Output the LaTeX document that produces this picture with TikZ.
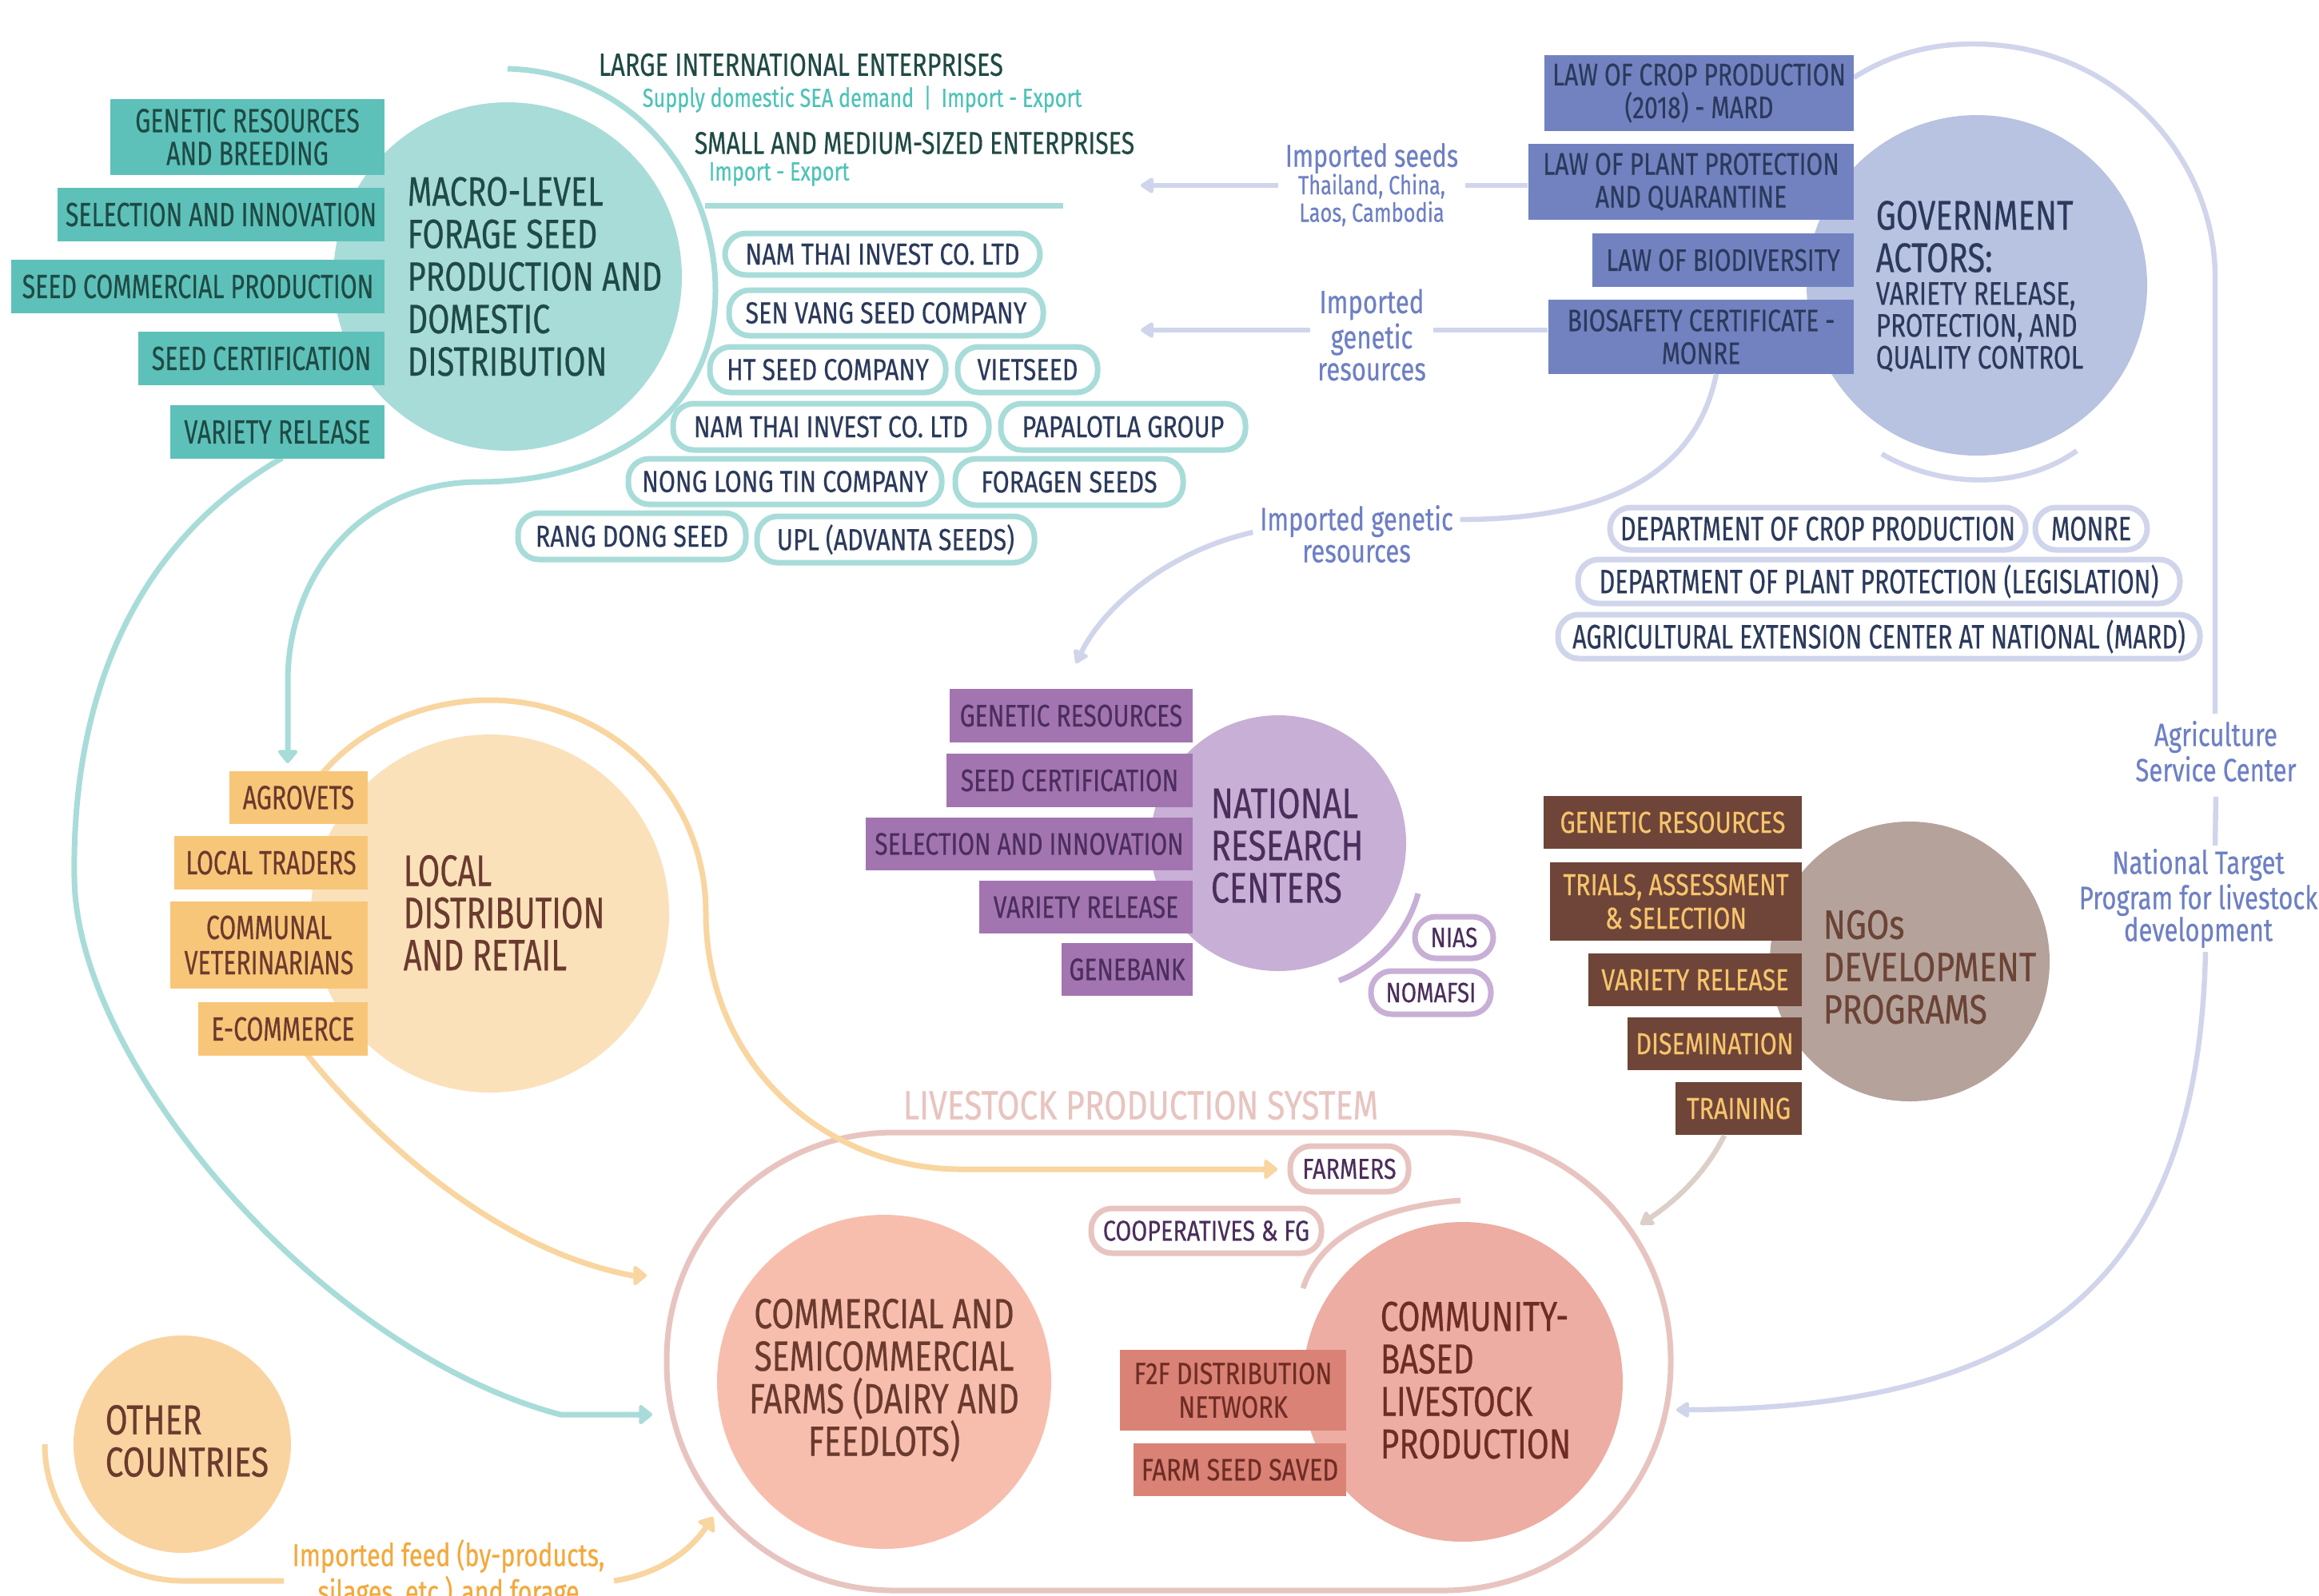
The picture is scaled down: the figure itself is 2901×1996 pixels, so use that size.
\documentclass[tikz,border=0pt]{standalone}
\usepackage{fontspec}
\setmainfont[FakeStretch=0.72,FakeBold=0.4]{Fira Sans}
\newfontfamily\fm[FakeStretch=0.77,FakeBold=0.4]{Fira Sans}
\newfontfamily\fw[FakeStretch=0.8,FakeBold=0.4]{Fira Sans}
\usetikzlibrary{arrows.meta}
\definecolor{tealLight}{HTML}{A8DCD9}
\definecolor{tealBox}{HTML}{5DC1B9}
\definecolor{tealDark}{HTML}{1F4A45}
\definecolor{tealText}{HTML}{4FC3B8}
\definecolor{navy}{HTML}{2B3A5C}
\definecolor{govCircle}{HTML}{B8C2E1}
\definecolor{govBox}{HTML}{7282C0}
\definecolor{lav}{HTML}{D0D5EC}
\definecolor{lavText}{HTML}{6E80C4}
\definecolor{nrcCircle}{HTML}{C8AFD6}
\definecolor{nrcBox}{HTML}{A275B1}
\definecolor{nrcText}{HTML}{4B2E5C}
\definecolor{ngoCircle}{HTML}{B5A29B}
\definecolor{ngoBox}{HTML}{6E4538}
\definecolor{ngoYellow}{HTML}{F7C46C}
\definecolor{ngoText}{HTML}{6B4436}
\definecolor{localCircle}{HTML}{FAE1BA}
\definecolor{localBox}{HTML}{F8C678}
\definecolor{brownText}{HTML}{6B3A2E}
\definecolor{orangeLine}{HTML}{F9D5A0}
\definecolor{otherCircle}{HTML}{FAD4A0}
\definecolor{feedText}{HTML}{F4A93C}
\definecolor{lsBorder}{HTML}{E8C4C0}
\definecolor{commCircle}{HTML}{F7BEAE}
\definecolor{cbCircle}{HTML}{EDADA2}
\definecolor{redBox}{HTML}{D98275}
\definecolor{redText}{HTML}{6E2C25}
\definecolor{trainLine}{HTML}{DCCFC8}
\newcommand\mybox[7]{%
  \pgfmathsetmacro\bw{(#5-#3)*0.25}%
  \pgfmathsetmacro\bh{(#6-#4)*0.25}%
  \node[#1,minimum width=\bw pt,minimum height=\bh pt] (#2) at ({(#3+#5)/2},{(#4+#6)/2}) {#7};}
\begin{document}
\begin{tikzpicture}[x=0.25pt,y=-0.25pt,
  boxbase/.style={inner sep=0pt, align=center},
  tbox/.style={boxbase, fill=tealBox, text=tealDark, font=\fontsize{10.5}{10.25}\selectfont},
  bbox/.style={boxbase, fill=govBox, text=navy, font=\fm\fontsize{9.75}{10.25}\selectfont},
  pbox/.style={boxbase, fill=nrcBox, text=nrcText, font=\fm\fontsize{9.75}{10}\selectfont},
  nbox/.style={boxbase, fill=ngoBox, text=ngoYellow, font=\fw\fontsize{9.5}{10.5}\selectfont},
  obox/.style={boxbase, fill=localBox, text=brownText, font=\fontsize{10.5}{11}\selectfont},
  rbox/.style={boxbase, fill=redBox, text=redText, font=\fw\fontsize{9.6}{10.5}\selectfont},
  pillbase/.style={inner sep=0pt, fill=white, line width=1.75pt, rounded corners=6.5pt},
  tpill/.style={pillbase, draw=tealLight, text=navy, font=\fw\fontsize{9.5}{10}\selectfont},
  lpill/.style={pillbase, draw=lav, text=navy, font=\fontsize{10.6}{10}\selectfont},
  ppill/.style={pillbase, draw=nrcCircle, text=nrcText, font=\fw\fontsize{8.75}{9}\selectfont},
  kpill/.style={pillbase, draw=lsBorder, text=nrcText, font=\fw\fontsize{9}{9}\selectfont},
  disc/.style={circle, inner sep=0pt, minimum size=#1},
  title/.style={align=left, anchor=west, inner sep=0pt, font=\fm\fontsize{12.8}{13.3}\selectfont},
  tline/.style={draw=tealLight, line width=1.75pt},
  oline/.style={draw=orangeLine, line width=1.75pt},
  lline/.style={draw=lav, line width=1.6pt},
  tip/.style={-{Triangle[width=7pt,length=4.5pt,round]}},
  ltip/.style={-{Triangle[width=5.5pt,length=4.5pt,round]}},
  lab/.style={align=center, inner sep=2pt, text=lavText, font=\fm\fontsize{10.1}{10}\selectfont}
]
\useasboundingbox[fill=white] (0,0) rectangle (2901,1996);

% ---------- livestock production system frame ----------
\mybox{draw=lsBorder, line width=1.75pt, rounded corners=71pt, inner sep=0pt}{lsys}{834}{1417}{2090}{1990}{}
\node[text=lsBorder, font=\fw\fontsize{12.75}{12.75}\selectfont, inner sep=0pt] (lstitle) at (1427,1383) {LIVESTOCK PRODUCTION SYSTEM};

% ---------- connector curves ----------
\coordinate (arcTop) at (635,86);
\coordinate (agroTip) at (360,955);
\path[tline, tip] (arcTop) .. controls (790,90) and (895,220) .. (895,364)
  .. controls (895,520) and (760,603) .. (600,603)
  .. controls (450,603) and (360,720) .. (360,853) -- (agroTip);
\coordinate (smeL) at (882,257);
\coordinate (smeR) at (1330,257);
\path[tline] (smeL) -- (smeR);

\coordinate (vrStart) at (353,573);
\coordinate (farmTipT) at (816,1770);
\path[tline, tip] (vrStart) .. controls (150,690) and (90,900) .. (93,1098)
  .. controls (95,1330) and (400,1690) .. (701,1770) -- (farmTipT);

\coordinate (locStart) at (395,978);
\coordinate (farmersTip) at (1598,1463);
\path[oline, tip] (locStart) .. controls (450,905) and (540,876) .. (612,876)
  .. controls (760,876) and (883,990) .. (883,1142)
  .. controls (883,1330) and (1030,1463) .. (1203,1463) -- (farmersTip);

\coordinate (ecomStart) at (383,1318);
\coordinate (ecomTip) at (809,1596);
\path[oline, tip] (ecomStart) .. controls (440,1390) and (600,1560) .. (791,1596) -- (ecomTip);

% other countries / imported feed
\node[text=feedText, align=center, inner sep=0pt, font=\fm\fontsize{9.9}{10}\selectfont] (feed) at (561,1970) {Imported feed (by-products,\\silages, etc.) and forage};
\coordinate (otherStart) at (56,1807);
\coordinate (feedTip) at (892,1898);
\path[oline] (otherStart) .. controls (56,1900) and (130,1978) .. (230,1978) -- (355,1978);
\path[oline, tip] (768,1978) .. controls (820,1970) and (860,1945) .. (feedTip);

% government connectors
\path[lline] (2319,97) .. controls (2370,65) and (2420,55) .. (2468,55)
  .. controls (2650,55) and (2771,200) .. (2771,346) -- (2771,893);
\node[lab] (asc) at (2772,940) {Agriculture\\Service Center};
\path[lline] (asc.south) ++(0,10) -- (2771,1058);
\node[lab] (ntp) at (2750,1124) {National Target\\Program for livestock\\development};
\coordinate (cbTip) at (2097,1764);
\path[lline, ltip] (2759,1191) .. controls (2750,1600) and (2550,1762) .. (cbTip);
\path[lline] (2354,568) .. controls (2430,612) and (2530,612) .. (2598,564);

% ---------- circles ----------
\node[disc=109pt, fill=tealLight] (macro) at (635,346) {};
\node[disc=106.5pt, fill=govCircle] (gov) at (2473,357) {};
\node[disc=80pt, fill=nrcCircle] (nrc) at (1599,1055) {};
\node[disc=87.5pt, fill=ngoCircle] (ngo) at (2389,1203) {};
\node[disc=112pt, fill=localCircle] (local) at (613,1143) {};
\node[disc=68pt, fill=otherCircle] (other) at (228,1807) {};
\node[disc=104.5pt, fill=commCircle] (comm) at (1106,1729) {};
\node[disc=100pt, fill=cbCircle] (cb) at (1830,1729) {};

% ---------- macro-level ----------
\node[title, text=tealDark] (macroT) at (509,346) {MACRO-LEVEL\\FORAGE SEED\\PRODUCTION AND\\DOMESTIC\\DISTRIBUTION};
\mybox{tbox}{tb1}{138}{124}{481}{219}{GENETIC RESOURCES\\AND BREEDING}
\mybox{tbox}{tb2}{72}{235}{481}{302}{SELECTION AND INNOVATION}
\mybox{tbox}{tb3}{14}{325}{481}{392}{SEED COMMERCIAL PRODUCTION}
\mybox{tbox}{tb4}{173}{415}{481}{482}{SEED CERTIFICATION}
\mybox{tbox}{tb5}{213}{507}{481}{574}{VARIETY RELEASE}

\node[anchor=west, inner sep=0pt, text=tealDark, font=\fm\fontsize{10}{10}\selectfont] (lie) at (748,81) {LARGE INTERNATIONAL ENTERPRISES};
\node[anchor=west, inner sep=0pt, text=tealText, font=\fm\fontsize{8.2}{8}\selectfont] (lieSub) at (803,124) {Supply domestic SEA demand \,|\, Import - Export};
\node[anchor=west, inner sep=0pt, text=tealDark, font=\fm\fontsize{9.85}{10}\selectfont] (sme) at (868,179) {SMALL AND MEDIUM-SIZED ENTERPRISES};
\node[anchor=west, inner sep=0pt, text=tealText, font=\fm\fontsize{8.2}{8}\selectfont] (smeSub) at (886,218) {Import - Export};

\mybox{tpill}{cp1}{907}{292}{1301}{344}{NAM THAI INVEST CO. LTD}
\mybox{tpill}{cp2}{912}{363}{1305}{420}{SEN VANG SEED COMPANY}
\mybox{tpill}{cp3}{888}{434}{1183}{491}{HT SEED COMPANY}
\mybox{tpill}{cp4}{1198}{434}{1373}{491}{VIETSEED}
\mybox{tpill}{cp5}{842}{505}{1237}{563}{NAM THAI INVEST CO. LTD}
\mybox{tpill}{cp6}{1252}{505}{1558}{563}{PAPALOTLA GROUP}
\mybox{tpill}{cp7}{786}{574}{1178}{631}{NONG LONG TIN COMPANY}
\mybox{tpill}{cp8}{1195}{574}{1480}{632}{FORAGEN SEEDS}
\mybox{tpill}{cp9}{648}{642}{933}{700}{RANG DONG SEED}
\mybox{tpill}{cp10}{947}{646}{1294}{704}{UPL (ADVANTA SEEDS)}

% ---------- government ----------
\node[title, text=navy, font=\fm\fontsize{12.9}{13.25}\selectfont] (govT) at (2346,296) {GOVERNMENT\\ACTORS:};
\node[title, text=navy, font=\fm\fontsize{10.2}{10}\selectfont] (govS) at (2346,409) {VARIETY RELEASE,\\PROTECTION, AND\\QUALITY CONTROL};
\mybox{bbox}{gb1}{1932}{69}{2319}{164}{LAW OF CROP PRODUCTION\\(2018) - MARD}
\mybox{bbox}{gb2}{1912}{180}{2319}{275}{LAW OF PLANT PROTECTION\\AND QUARANTINE}
\mybox{bbox}{gb3}{1992}{292}{2319}{359}{LAW OF BIODIVERSITY}
\mybox{bbox}{gb4}{1937}{375}{2319}{468}{BIOSAFETY CERTIFICATE -\\MONRE}

\node[lab, font=\fm\fontsize{8.25}{8.6}\selectfont] (impSeeds) at (1716,231) {{\fontsize{9.9}{8.6}\selectfont Imported seeds}\\Thailand, China,\\Laos, Cambodia};
\coordinate (seedTip) at (1427,232);
\path[lline] (gb2.west |- 0,232) -- (impSeeds.east |- 0,232);
\path[lline, ltip] (impSeeds.west |- 0,232) -- (seedTip);
\node[lab] (impGen) at (1716,419) {Imported\\genetic\\resources};
\coordinate (genTip) at (1427,413);
\path[lline] (gb4.west |- 0,413) -- (impGen.east |- 0,413);
\path[lline, ltip] (impGen.west |- 0,413) -- (genTip);

\node[lab] (impGen2) at (1697,668) {Imported genetic\\resources};
\coordinate (nrcTip) at (1346,830);
\path[lline] (2147,468) .. controls (2120,600) and (2000,650) .. (impGen2.east |- 0,650);
\path[lline, ltip] (impGen2.west |- 0,666) .. controls (1460,690) and (1380,760) .. (nrcTip);

\mybox{lpill}{dp1}{2014}{635}{2534}{688}{DEPARTMENT OF CROP PRODUCTION}
\mybox{lpill}{dp2}{2546}{635}{2686}{688}{MONRE}
\mybox{lpill}{dp3}{1974}{700}{2727}{755}{DEPARTMENT OF PLANT PROTECTION (LEGISLATION)}
\mybox{lpill}{dp4}{1949}{769}{2752}{824}{AGRICULTURAL EXTENSION CENTER AT NATIONAL (MARD)}

% ---------- national research centers ----------
\node[title, text=nrcText, font=\fm\fontsize{13.4}{13.2}\selectfont] (nrcT) at (1514,1058) {NATIONAL\\RESEARCH\\CENTERS};
\mybox{pbox}{nb1}{1188}{862}{1492}{929}{GENETIC RESOURCES}
\mybox{pbox}{nb2}{1184}{943}{1492}{1010}{SEED CERTIFICATION}
\mybox{pbox}{nb3}{1083}{1023}{1492}{1089}{SELECTION AND INNOVATION}
\mybox{pbox}{nb4}{1225}{1102}{1492}{1168}{VARIETY RELEASE}
\mybox{pbox}{nb5}{1328}{1180}{1492}{1246}{GENEBANK}
\path[draw=nrcCircle, line width=1.75pt] (1774,1118) .. controls (1760,1170) and (1720,1210) .. (1675,1227);
\mybox{ppill}{pp1}{1770}{1147}{1868}{1199}{NIAS}
\mybox{ppill}{pp2}{1715}{1215}{1865}{1269}{NOMAFSI}

% ---------- NGOs ----------
\node[title, text=ngoText, font=\fw\fontsize{12.85}{13.25}\selectfont] (ngoT) at (2280,1210) {NGOs\\DEVELOPMENT\\PROGRAMS};
\mybox{nbox}{ng1}{1931}{996}{2254}{1062}{GENETIC RESOURCES}
\mybox{nbox}{ng2}{1939}{1079}{2254}{1177}{TRIALS, ASSESSMENT\\\& SELECTION}
\mybox{nbox}{ng3}{1987}{1193}{2254}{1259}{VARIETY RELEASE}
\mybox{nbox}{ng4}{2036}{1273}{2254}{1339}{DISEMINATION}
\mybox{nbox}{ng5}{2096}{1354}{2254}{1420}{TRAINING}
\coordinate (trainTip) at (2052,1532);
\path[draw=trainLine, line width=1.6pt, ltip] (ng5.south -| 2157,0) .. controls (2135,1465) and (2100,1500) .. (trainTip);

% ---------- local distribution ----------
\node[title, text=brownText, font=\fontsize{13.8}{13.2}\selectfont] (localT) at (504,1142) {LOCAL\\DISTRIBUTION\\AND RETAIL};
\mybox{obox}{lb1}{287}{965}{460}{1031}{AGROVETS}
\mybox{obox}{lb2}{218}{1046}{460}{1113}{LOCAL TRADERS}
\mybox{obox}{lb3}{213}{1128}{460}{1237}{COMMUNAL\\VETERINARIANS}
\mybox{obox}{lb4}{248}{1254}{460}{1321}{E-COMMERCE}

\node[title, text=brownText, font=\fm\fontsize{13.1}{13.2}\selectfont] (otherT) at (131,1803) {OTHER\\COUNTRIES};

% ---------- livestock production ----------
\node[align=center, inner sep=0pt, text=brownText, font=\fm\fontsize{13.2}{13.3}\selectfont] (commT) at (1106,1727) {COMMERCIAL AND\\SEMICOMMERCIAL\\FARMS (DAIRY AND\\FEEDLOTS)};
\node[title, text=redText, font=\fm\fontsize{13.1}{13.3}\selectfont] (cbT) at (1726,1727) {COMMUNITY-\\BASED\\LIVESTOCK\\PRODUCTION};
\mybox{rbox}{rb1}{1401}{1689}{1684}{1790}{F2F DISTRIBUTION\\NETWORK}
\mybox{rbox}{rb2}{1418}{1806}{1684}{1872}{FARM SEED SAVED}
\path[draw=lsBorder, line width=1.75pt] (1827,1502) .. controls (1720,1510) and (1650,1550) .. (1630,1612);
\mybox{kpill}{fp1}{1614}{1434}{1762}{1491}{FARMERS}
\mybox{kpill}{fp2}{1365}{1512}{1653}{1568}{COOPERATIVES \& FG}
\end{tikzpicture}
\end{document}
